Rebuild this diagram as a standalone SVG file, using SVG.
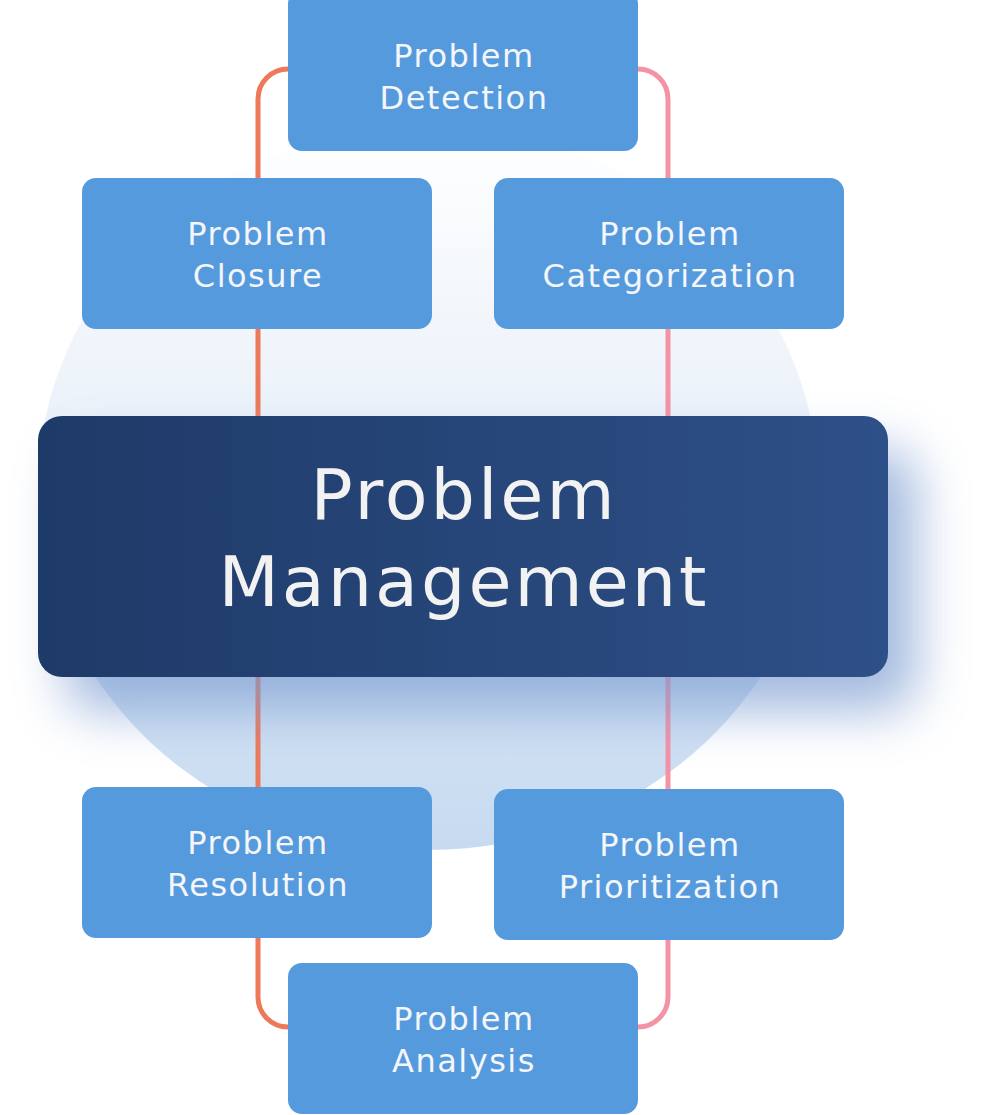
<svg xmlns="http://www.w3.org/2000/svg" width="1000" height="1115" viewBox="0 0 1000 1115">
<defs>
<linearGradient id="blobGrad" x1="0" y1="0" x2="0" y2="1">
<stop offset="0" stop-color="#ffffff"/>
<stop offset="0.45" stop-color="#e9f0f9"/>
<stop offset="1" stop-color="#c6daf0"/>
</linearGradient>
<linearGradient id="centerGrad" x1="0" y1="0" x2="1" y2="0">
<stop offset="0" stop-color="#1e3a68"/>
<stop offset="1" stop-color="#2e5088"/>
</linearGradient>
<filter id="shadowBlur" x="-20%" y="-50%" width="140%" height="200%">
<feGaussianBlur stdDeviation="26"/>
</filter>
<style>
.node rect.box{fill:#569ade}
.node text{font-family:"DejaVu Sans","Noto Sans",sans-serif;font-size:32px;letter-spacing:1.5px;fill:#f4f6f9;text-anchor:middle}
.center text{font-family:"DejaVu Sans","Noto Sans",sans-serif;font-size:70px;letter-spacing:3px;fill:#f2f2f2;text-anchor:middle}
.conn{fill:none;stroke-width:5}
</style>
</defs>
<ellipse id="blob" cx="428" cy="488" rx="390" ry="362" fill="url(#blobGrad)"/>
<g id="connectors">
<path class="conn" stroke="#ec7a5a" d="M290,69 H288 A30,30 0 0 0 258,99 V997 A30,30 0 0 0 288,1027 H290"/>
<path class="conn" stroke="#f492a6" d="M636,69 H638 A30,30 0 0 1 668,99 V997 A30,30 0 0 1 638,1027 H636"/>
</g>
<rect x="66" y="450" width="850" height="261" rx="30" fill="#7a9bd0" opacity="0.7" filter="url(#shadowBlur)"/>
<g id="node-center" class="center">
<rect x="38" y="416" width="850" height="261" rx="24" fill="url(#centerGrad)"/>
<text x="464" y="519">Problem</text>
<text x="464" y="606">Management</text>
</g>
<g id="node-detection" class="node">
<rect class="box" x="288" y="-10" width="350" height="161" rx="14"/>
<text x="464" y="67">Problem</text>
<text x="464" y="109">Detection</text>
</g>
<g id="node-closure" class="node">
<rect class="box" x="82" y="178" width="350" height="151" rx="14"/>
<text x="258" y="245">Problem</text>
<text x="258" y="287">Closure</text>
</g>
<g id="node-categorization" class="node">
<rect class="box" x="494" y="178" width="350" height="151" rx="14"/>
<text x="670" y="245">Problem</text>
<text x="670" y="287">Categorization</text>
</g>
<g id="node-resolution" class="node">
<rect class="box" x="82" y="787" width="350" height="151" rx="14"/>
<text x="258" y="854">Problem</text>
<text x="258" y="896">Resolution</text>
</g>
<g id="node-prioritization" class="node">
<rect class="box" x="494" y="789" width="350" height="151" rx="14"/>
<text x="670" y="856">Problem</text>
<text x="670" y="898">Prioritization</text>
</g>
<g id="node-analysis" class="node">
<rect class="box" x="288" y="963" width="350" height="151" rx="14"/>
<text x="464" y="1030">Problem</text>
<text x="464" y="1072">Analysis</text>
</g>
</svg>
